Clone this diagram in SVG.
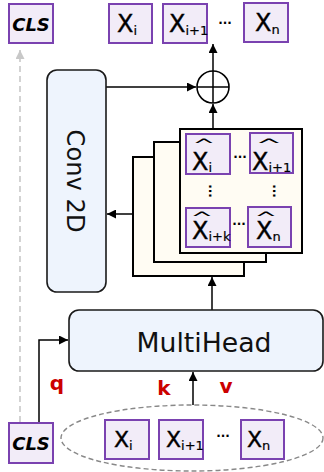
<svg xmlns="http://www.w3.org/2000/svg" width="324" height="472" viewBox="0 0 324 472">
<style>
.tok{fill:#f2ecf8;stroke:#7a42b0;stroke-width:2}
.tx{font-family:"DejaVu Sans",sans-serif;font-size:24px;fill:#000;stroke:#000;stroke-width:0.4}
.txs{font-family:"DejaVu Sans",sans-serif;font-size:22px;fill:#000;stroke:#000;stroke-width:0.4}
.sub{font-size:13px;stroke-width:0.2}
.cls{font-family:"DejaVu Sans",sans-serif;font-size:18px;font-style:italic;font-weight:bold;fill:#000}
.blk{fill:#eef4fd;stroke:#1a1a1a;stroke-width:1.6}
.lbl{font-family:"DejaVu Sans",sans-serif;fill:#111}
.stk{fill:#fffcf3;stroke:#000;stroke-width:2}
.ln{fill:none;stroke:#000;stroke-width:1.5}
.qkv{font-family:"DejaVu Sans",sans-serif;font-size:20px;font-weight:bold;fill:#cc0000}
.dots{font-family:"DejaVu Sans",sans-serif;font-size:12px;font-weight:bold;fill:#000}
.hat{font-family:"DejaVu Sans",sans-serif;font-size:16px;fill:#000}
</style>
<defs>
<marker id="ah" markerUnits="userSpaceOnUse" markerWidth="10" markerHeight="9" refX="9" refY="4.5" orient="auto"><path d="M0,0 L9,4.5 L0,9 z" fill="#000"/></marker>
<marker id="ahg" markerUnits="userSpaceOnUse" markerWidth="10" markerHeight="9" refX="9" refY="4.5" orient="auto"><path d="M0,0 L9,4.5 L0,9 z" fill="#c8c8c8"/></marker>
</defs>

<g id="connectors">
<path d="M20 422 V50" fill="none" stroke="#c8c8c8" stroke-width="1.6" stroke-dasharray="6 4" marker-end="url(#ahg)"/>
<path class="ln" d="M39 423 V340 H68" marker-end="url(#ah)"/>
<path class="ln" d="M193 405 V372" marker-end="url(#ah)"/>
<path class="ln" d="M212 310 V277" marker-end="url(#ah)"/>
<path class="ln" d="M133 214 H107" marker-end="url(#ah)"/>
<path class="ln" d="M213 129 V104" marker-end="url(#ah)"/>
<path class="ln" d="M106 87 H196" marker-end="url(#ah)"/>
<path class="ln" d="M213 71 V44" marker-end="url(#ah)"/>
</g>

<g id="cls-top"><rect class="tok" x="9" y="4" width="44" height="39"/><text class="cls" x="31" y="31" text-anchor="middle">CLS</text></g>
<g id="x-i-top"><rect class="tok" x="109" y="4" width="43" height="39"/><text class="tx" x="117" y="32">X<tspan class="sub" dy="3">i</tspan></text></g>
<g id="x-i1-top"><rect class="tok" x="163" y="4" width="44" height="39"/><text class="tx" x="169" y="32">X<tspan class="sub" dy="3">i+1</tspan></text></g>
<g id="dots-top"><text class="dots" x="225" y="27" text-anchor="middle">···</text></g>
<g id="x-n-top"><rect class="tok" x="244" y="3" width="44" height="39"/><text class="tx" x="255" y="31">X<tspan class="sub" dy="3">n</tspan></text></g>

<g id="plus"><circle cx="213" cy="87" r="16" fill="#fff" stroke="#000" stroke-width="1.6"/><path class="ln" d="M197 87 H229 M213 71 V103"/></g>

<g id="conv2d"><rect class="blk" x="47" y="70" width="59" height="222" rx="10"/><text class="lbl" font-size="25" transform="translate(67,181) rotate(90)" text-anchor="middle" textLength="103" lengthAdjust="spacingAndGlyphs">Conv 2D</text></g>

<g id="stack">
<rect class="stk" x="133" y="157" width="111" height="119"/>
<rect class="stk" x="154" y="142" width="112" height="120"/>
<rect class="stk" x="180" y="129" width="122" height="124"/>
</g>

<g id="xh-i"><rect class="tok" x="186" y="134" width="44" height="40"/><text class="hat" transform="translate(204,150) scale(1.7,1)" text-anchor="middle">^</text><text class="tx" x="192" y="170">X<tspan class="sub" dy="2">i</tspan></text></g>
<g id="xh-i1"><rect class="tok" x="250" y="133" width="43" height="40"/><text class="hat" transform="translate(269,150) scale(2,1)" text-anchor="middle">^</text><text class="tx" x="252" y="170">X<tspan class="sub" dy="2">i+1</tspan></text></g>
<g id="xh-ik"><rect class="tok" x="186" y="208" width="44" height="39"/><text class="hat" transform="translate(202,223) scale(1.7,1)" text-anchor="middle">^</text><text class="tx" x="192" y="239">X<tspan class="sub" dy="2">i+k</tspan></text></g>
<g id="xh-n"><rect class="tok" x="248" y="207" width="43" height="40"/><text class="hat" transform="translate(266,223) scale(1.7,1)" text-anchor="middle">^</text><text class="tx" x="256" y="239">X<tspan class="sub" dy="2">n</tspan></text></g>
<g id="inner-dots">
<text class="dots" x="240" y="161" text-anchor="middle">···</text>
<text class="dots" x="239" y="228" text-anchor="middle">···</text>
<text class="dots" transform="translate(206,191) rotate(90)" text-anchor="middle">···</text>
<text class="dots" transform="translate(270,191) rotate(90)" text-anchor="middle">···</text>
</g>

<g id="multihead"><rect class="blk" x="69" y="310" width="254" height="61" rx="10"/><text class="lbl" font-size="26" x="204" y="352" text-anchor="middle" textLength="135" lengthAdjust="spacingAndGlyphs">MultiHead</text></g>

<g id="labels">
<text class="qkv" x="57" y="390" text-anchor="middle">q</text>
<text class="qkv" x="164" y="395" text-anchor="middle">k</text>
<text class="qkv" x="226" y="393" text-anchor="middle">v</text>
</g>

<g id="input-set"><ellipse cx="192" cy="438" rx="131" ry="33" fill="none" stroke="#888" stroke-width="1.4" stroke-dasharray="5 3"/></g>
<g id="cls-bottom"><rect class="tok" x="9" y="423" width="44" height="40"/><text class="cls" x="31" y="450" text-anchor="middle">CLS</text></g>
<g id="x-i-bot"><rect class="tok" x="105" y="420" width="44" height="39"/><text class="txs" x="114" y="447">X<tspan class="sub" dy="3">i</tspan></text></g>
<g id="x-i1-bot"><rect class="tok" x="159" y="420" width="44" height="39"/><text class="txs" x="166" y="447">X<tspan class="sub" dy="3">i+1</tspan></text></g>
<g id="dots-bot"><text class="dots" x="223" y="440" text-anchor="middle">···</text></g>
<g id="x-n-bot"><rect class="tok" x="241" y="420" width="43" height="39"/><text class="txs" x="247" y="447">X<tspan class="sub" dy="3">n</tspan></text></g>
</svg>
